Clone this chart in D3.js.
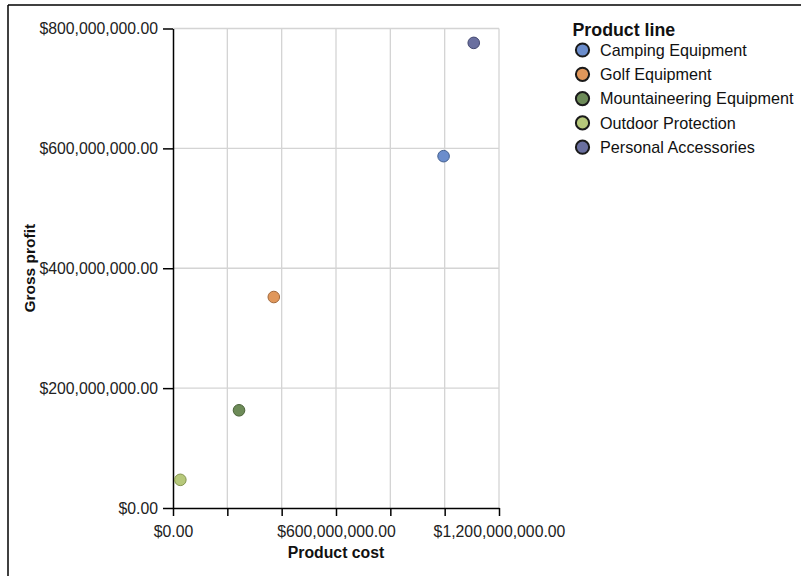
<!DOCTYPE html>
<html>
<head>
<meta charset="utf-8">
<script src="https://cdn.jsdelivr.net/npm/d3@7"></script>
<style>
  html, body { margin: 0; padding: 0; background: #ffffff; }
  svg { display: block; font-family: "Liberation Sans", Arial, Helvetica, sans-serif; }
</style>
</head>
<body>
<svg id="chart" width="801" height="576"></svg>
<script>
// ---- data ----
const productLines = ["Camping Equipment", "Golf Equipment", "Mountaineering Equipment", "Outdoor Protection", "Personal Accessories"];
const productCost  = [996000000, 371000000, 243000000, 27000000, 1107000000];
const grossProfit  = [587000000, 352000000, 163000000, 47000000, 776000000];
const xTickValues  = [0, 200000000, 400000000, 600000000, 800000000, 1000000000, 1200000000];
const xLabelValues = [0, 600000000, 1200000000];
const yTickValues  = [0, 200000000, 400000000, 600000000, 800000000];
const fillColors   = ["#6b8dcc", "#e0975b", "#6d8b58", "#b6c87a", "#6a6f9f"];
const strokeColors = ["#44608f", "#a3693b", "#4a6339", "#84954f", "#434870"];

const svg = d3.select("#chart");
const W = 801, H = 576;

// outer frame (left and top edges visible)
svg.append("line").attr("x1", 8).attr("y1", 5).attr("x2", W).attr("y2", 5)
  .attr("stroke", "#000").attr("stroke-width", 1.5);
svg.append("line").attr("x1", 8).attr("y1", 5).attr("x2", 8).attr("y2", H)
  .attr("stroke", "#000").attr("stroke-width", 1.5);

const plot = { left: 173, right: 499, top: 28.5, bottom: 508 };

const x = d3.scaleLinear().domain([0, 1200000000]).range([plot.left, plot.right]);
const y = d3.scaleLinear().domain([0, 800000000]).range([plot.bottom, plot.top]);
const fmt = d3.format("$,.2f");

// gridlines
const grid = svg.append("g");
grid.selectAll("line.vx").data(xTickValues.filter(v => v > 0)).join("line")
  .attr("x1", d => x(d)).attr("x2", d => x(d))
  .attr("y1", plot.top).attr("y2", plot.bottom)
  .attr("stroke", "#d4d4d4").attr("stroke-width", 1.3);
grid.selectAll("line.hy").data(yTickValues.filter(v => v > 0)).join("line")
  .attr("x1", plot.left).attr("x2", plot.right)
  .attr("y1", d => y(d)).attr("y2", d => y(d))
  .attr("stroke", "#d4d4d4").attr("stroke-width", 1.3);

// x axis
const xAxis = d3.axisBottom(x).tickValues(xTickValues).tickSizeInner(8).tickSizeOuter(0)
  .tickFormat(d => xLabelValues.includes(d) ? fmt(d) : "");
const gx = svg.append("g").attr("transform", `translate(0,${plot.bottom})`).call(xAxis);
gx.select(".domain").attr("stroke", "#000").attr("stroke-width", 1.5);
gx.selectAll(".tick line").attr("stroke", "#000").attr("stroke-width", 1.5);
gx.selectAll(".tick text").attr("font-size", 15.8).attr("fill", "#222").attr("dy", "0.95em").attr("y", 14);

// y axis
const yAxis = d3.axisLeft(y).tickValues(yTickValues).tickSizeInner(10).tickSizeOuter(0).tickFormat(fmt);
const gy = svg.append("g").attr("transform", `translate(${plot.left},0)`).call(yAxis);
gy.select(".domain").attr("stroke", "#000").attr("stroke-width", 1.5);
gy.selectAll(".tick line").attr("stroke", "#000").attr("stroke-width", 1.5);
gy.selectAll(".tick text").attr("font-size", 15.8).attr("fill", "#222").attr("x", -15);

// axis titles
svg.append("text").attr("x", (plot.left + plot.right) / 2).attr("y", 558)
  .attr("text-anchor", "middle").attr("font-weight", "bold").attr("font-size", 15.8).attr("fill", "#111")
  .text("Product cost");
svg.append("text").attr("transform", `translate(35,${(plot.top + plot.bottom) / 2}) rotate(-90)`)
  .attr("text-anchor", "middle").attr("font-weight", "bold").attr("font-size", 15.5).attr("fill", "#111")
  .text("Gross profit");

// points
svg.append("g").selectAll("circle").data(productLines).join("circle")
  .attr("cx", (d, i) => x(productCost[i]))
  .attr("cy", (d, i) => y(grossProfit[i]))
  .attr("r", 5.8)
  .attr("fill", (d, i) => fillColors[i])
  .attr("stroke", (d, i) => strokeColors[i])
  .attr("stroke-width", 1);

// legend
const lg = svg.append("g");
lg.append("text").attr("x", 572.5).attr("y", 35.5).attr("font-weight", "bold").attr("font-size", 17.8).attr("fill", "#111")
  .text("Product line");
const items = lg.selectAll("g.item").data(productLines).join("g")
  .attr("transform", (d, i) => `translate(0,${50 + i * 24.3})`);
items.append("circle").attr("cx", 582.5).attr("cy", 0).attr("r", 6.6)
  .attr("fill", (d, i) => fillColors[i]).attr("stroke", "#1a1a1a").attr("stroke-width", 2);
items.append("text").attr("x", 600).attr("y", 5.6).attr("font-size", 16.2).attr("fill", "#111")
  .text(d => d);
</script>
</body>
</html>
